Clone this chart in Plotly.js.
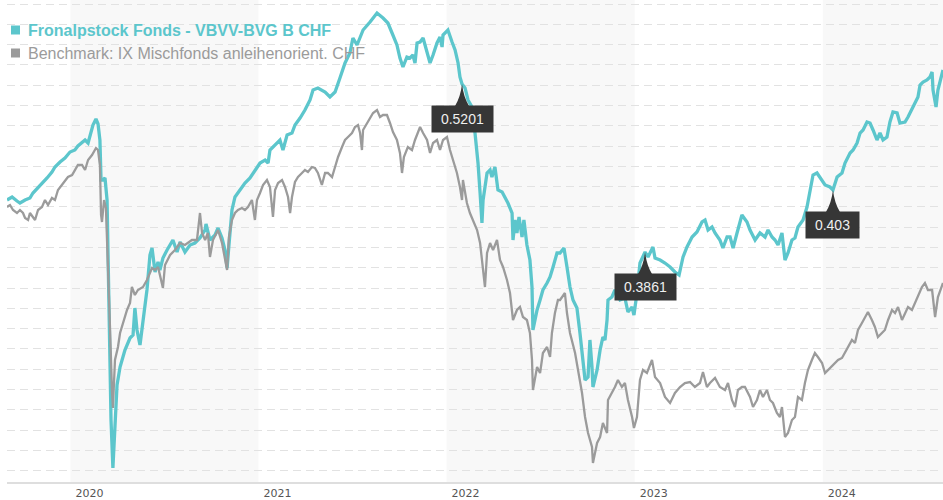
<!DOCTYPE html>
<html>
<head>
<meta charset="utf-8">
<script src="https://cdn.plot.ly/plotly-3.0.1.min.js"></script>
<style>html,body{margin:0;padding:0;background:#fff;}#chart{width:943px;height:500px;}</style>
</head>
<body>
<div id="chart"></div>
<script>
// ---- data (x in decimal years, values in index points) ----
const fundName = 'Fronalpstock Fonds - VBVV-BVG B CHF';
const benchName = 'Benchmark: IX Mischfonds anleihenorient. CHF';

const tickYears = [2020, 2021, 2022, 2023, 2024];
const tickLabels = ['2020', '2021', '2022', '2023', '2024'];
const shadedYears = [2020, 2022, 2024];

const fundYear = [
2019.663,2019.690,2019.716,2019.732,2019.759,2019.785,2019.801,2019.828,2019.854,2019.876,
2019.902,2019.918,2019.945,2019.971,2019.998,2020.024,2020.040,2020.062,2020.078,2020.094,
2020.104,2020.120,2020.136,2020.147,2020.157,2020.163,2020.173,2020.184,2020.195,2020.205,
2020.216,2020.226,2020.237,2020.248,2020.264,2020.290,2020.317,2020.333,2020.343,2020.354,
2020.370,2020.386,2020.407,2020.423,2020.434,2020.450,2020.466,2020.476,2020.492,2020.514,
2020.530,2020.545,2020.567,2020.583,2020.609,2020.636,2020.662,2020.689,2020.716,2020.721,
2020.742,2020.769,2020.785,2020.806,2020.822,2020.833,2020.843,2020.859,2020.875,2020.902,
2020.928,2020.955,2020.981,2021.008,2021.035,2021.051,2021.061,2021.088,2021.114,2021.130,
2021.152,2021.178,2021.194,2021.221,2021.247,2021.274,2021.290,2021.316,2021.354,2021.380,
2021.407,2021.433,2021.460,2021.486,2021.502,2021.524,2021.540,2021.556,2021.593,2021.619,
2021.630,2021.662,2021.688,2021.710,2021.736,2021.752,2021.768,2021.789,2021.805,2021.821,
2021.832,2021.843,2021.859,2021.875,2021.896,2021.912,2021.928,2021.949,2021.965,2021.976,
2021.981,2022.007,2022.029,2022.045,2022.061,2022.071,2022.082,2022.098,2022.114,2022.135,
2022.151,2022.162,2022.167,2022.178,2022.188,2022.194,2022.215,2022.231,2022.241,2022.257,
2022.268,2022.273,2022.295,2022.310,2022.326,2022.348,2022.353,2022.364,2022.374,2022.385,
2022.401,2022.411,2022.427,2022.443,2022.454,2022.459,2022.481,2022.497,2022.512,2022.534,
2022.550,2022.566,2022.587,2022.603,2022.624,2022.640,2022.656,2022.672,2022.693,2022.709,
2022.725,2022.736,2022.752,2022.762,2022.773,2022.778,2022.800,2022.816,2022.831,2022.842,
2022.853,2022.858,2022.879,2022.895,2022.922,2022.948,2022.964,2022.986,2022.996,2023.012,
2023.028,2023.055,2023.071,2023.097,2023.108,2023.135,2023.161,2023.188,2023.214,2023.236,
2023.257,2023.278,2023.305,2023.331,2023.358,2023.374,2023.390,2023.411,2023.427,2023.453,
2023.469,2023.491,2023.507,2023.523,2023.544,2023.560,2023.570,2023.597,2023.613,2023.640,
2023.666,2023.693,2023.709,2023.730,2023.746,2023.762,2023.783,2023.799,2023.815,2023.836,
2023.852,2023.868,2023.895,2023.916,2023.932,2023.948,2023.969,2023.996,2024.012,2024.038,
2024.054,2024.076,2024.102,2024.118,2024.145,2024.161,2024.182,2024.198,2024.214,2024.235,
2024.251,2024.267,2024.288,2024.304,2024.320,2024.341,2024.357,2024.373,2024.395,2024.410,
2024.437,2024.453,2024.474,2024.490,2024.506,2024.517,2024.533,2024.554,2024.570,2024.581,
2024.586,2024.602,2024.612,2024.639
];
const fundValue = [
282,285,281,279,282,284,289,294,299,304,
310,315,320,324,330,332,336,339,342,339,
347,357,363,358,342,302,302,304,282,182,
62,14,52,97,115,132,144,147,174,152,
137,164,192,227,234,210,220,212,224,232,
237,242,230,240,230,237,239,244,252,258,
242,247,254,244,232,214,237,272,285,292,
299,304,312,319,322,319,332,337,342,332,
347,349,357,364,372,382,392,394,390,385,
390,404,419,429,444,437,445,452,460,467,
469,464,459,449,437,424,415,425,424,427,
419,439,440,444,430,419,427,439,445,435,
447,452,440,432,419,405,398,394,382,375,
349,332,319,289,259,282,309,312,305,315,
302,292,290,285,279,269,242,262,249,265,
245,262,237,222,195,152,172,182,192,199,
205,215,229,229,234,215,195,182,174,149,
122,102,105,142,115,95,112,132,145,142,
162,182,185,192,182,184,170,175,167,189,
219,230,225,235,224,222,219,215,210,207,
225,235,245,250,260,262,252,255,249,242,
234,245,245,234,249,262,267,260,252,242,
249,245,252,245,242,237,249,222,229,242,
244,255,262,275,292,307,309,302,297,295,
292,305,309,319,329,332,339,349,352,360,
359,352,342,349,342,345,360,370,369,359,
360,365,374,379,385,397,400,402,405,410,
392,375,392,412
];

const benchYear = [
2019.663,2019.679,2019.695,2019.716,2019.732,2019.748,2019.759,2019.775,2019.785,2019.801,
2019.812,2019.828,2019.849,2019.865,2019.881,2019.902,2019.918,2019.934,2019.955,2019.971,
2019.987,2020.009,2020.024,2020.040,2020.062,2020.078,2020.094,2020.115,2020.136,2020.147,
2020.157,2020.163,2020.168,2020.179,2020.189,2020.200,2020.211,2020.221,2020.226,2020.237,
2020.253,2020.264,2020.280,2020.301,2020.317,2020.327,2020.343,2020.359,2020.386,2020.407,
2020.434,2020.450,2020.466,2020.492,2020.503,2020.530,2020.556,2020.583,2020.609,2020.646,
2020.673,2020.689,2020.700,2020.716,2020.731,2020.742,2020.758,2020.779,2020.785,2020.806,
2020.822,2020.833,2020.843,2020.859,2020.875,2020.891,2020.912,2020.928,2020.944,2020.965,
2020.981,2020.992,2021.008,2021.024,2021.045,2021.061,2021.077,2021.088,2021.104,2021.125,
2021.141,2021.157,2021.168,2021.178,2021.194,2021.210,2021.231,2021.247,2021.263,2021.284,
2021.300,2021.316,2021.337,2021.354,2021.369,2021.391,2021.407,2021.423,2021.444,2021.460,
2021.476,2021.497,2021.513,2021.529,2021.540,2021.550,2021.556,2021.577,2021.593,2021.609,
2021.630,2021.646,2021.662,2021.683,2021.699,2021.715,2021.736,2021.752,2021.763,2021.773,
2021.794,2021.816,2021.832,2021.848,2021.859,2021.875,2021.896,2021.912,2021.928,2021.949,
2021.965,2021.981,2022.002,2022.018,2022.034,2022.055,2022.071,2022.082,2022.087,2022.108,
2022.124,2022.140,2022.162,2022.178,2022.194,2022.204,2022.215,2022.231,2022.247,2022.268,
2022.284,2022.300,2022.321,2022.337,2022.353,2022.374,2022.390,2022.406,2022.427,2022.443,
2022.454,2022.459,2022.481,2022.497,2022.512,2022.534,2022.550,2022.560,2022.576,2022.592,
2022.603,2022.629,2022.640,2022.656,2022.683,2022.699,2022.720,2022.736,2022.752,2022.773,
2022.778,2022.800,2022.816,2022.831,2022.853,2022.858,2022.879,2022.895,2022.911,2022.932,
2022.948,2022.964,2022.986,2022.996,2023.012,2023.028,2023.044,2023.065,2023.092,2023.108,
2023.135,2023.161,2023.188,2023.214,2023.241,2023.267,2023.294,2023.320,2023.347,2023.363,
2023.384,2023.400,2023.427,2023.453,2023.480,2023.496,2023.517,2023.533,2023.549,2023.570,
2023.586,2023.613,2023.629,2023.650,2023.666,2023.682,2023.703,2023.719,2023.735,2023.756,
2023.772,2023.783,2023.799,2023.815,2023.836,2023.852,2023.868,2023.889,2023.905,2023.921,
2023.942,2023.958,2023.974,2023.996,2024.012,2024.028,2024.049,2024.065,2024.081,2024.102,
2024.118,2024.134,2024.155,2024.171,2024.187,2024.208,2024.224,2024.240,2024.261,2024.277,
2024.293,2024.314,2024.330,2024.347,2024.368,2024.384,2024.400,2024.421,2024.437,2024.453,
2024.474,2024.490,2024.506,2024.527,2024.543,2024.559,2024.581,2024.597,2024.612,2024.639
];
const benchValue = [
275,277,272,269,272,269,264,262,269,265,
262,272,275,282,277,284,282,292,297,302,
305,307,312,317,317,312,322,327,334,332,
317,267,260,282,274,222,152,92,74,122,
135,149,159,172,179,195,187,192,195,202,
214,212,215,194,217,227,232,239,237,242,
242,269,249,242,249,225,242,249,252,239,
225,212,245,262,269,272,274,272,275,282,
262,282,289,297,302,295,265,292,299,302,
295,285,269,285,300,305,309,312,310,315,
314,309,297,309,309,305,315,325,335,342,
345,349,355,357,349,332,352,359,365,369,
372,365,367,367,359,350,342,329,309,325,
335,332,342,349,355,349,342,329,339,342,
332,342,345,332,322,309,295,282,302,279,
269,262,252,239,215,195,229,239,232,242,
222,215,202,189,162,172,175,165,162,149,
122,92,115,109,129,135,125,149,169,182,
182,189,169,149,129,112,89,65,49,35,
19,39,45,59,49,82,89,95,102,95,
99,82,65,54,65,102,112,109,122,105,
99,85,79,89,95,99,100,95,99,110,
95,99,104,95,92,99,82,75,92,95,
95,85,75,82,92,85,92,82,79,69,
65,75,45,49,62,65,85,82,99,112,
122,129,125,119,109,112,115,119,122,124,
129,134,142,139,152,159,165,170,162,155,
145,149,152,162,172,169,175,162,169,175,
172,179,185,195,199,192,192,165,185,199
];

// labelled points on the fund line
const markerYear = [2022.082, 2023.055, 2024.054];
const markerLabels = ['0.5201', '0.3861', '0.403'];

// ---- styling ----
const TEAL = '#5cc6cc';
const GREY = '#9b9b9b';

function valueAt(xs, ys, x) {
  for (let i = 1; i < xs.length; i++) {
    if (xs[i] >= x) {
      const t = (x - xs[i - 1]) / (xs[i] - xs[i - 1]);
      return ys[i - 1] + t * (ys[i] - ys[i - 1]);
    }
  }
  return ys[ys.length - 1];
}

const traces = [
  { type: 'scatter', mode: 'lines', x: fundYear, y: fundValue, name: fundName,
    line: { color: TEAL, width: 3.3 }, hoverinfo: 'skip', showlegend: false },
  { type: 'scatter', mode: 'lines', x: benchYear, y: benchValue, name: benchName,
    line: { color: GREY, width: 2.3 }, hoverinfo: 'skip', showlegend: false }
];

const shapes = shadedYears.map(y => ({
  type: 'rect', xref: 'x', yref: 'paper', x0: y, x1: y + 1, y0: 0, y1: 1,
  fillcolor: '#f8f8f8', line: { width: 0 }, layer: 'below'
}));

// custom legend: coloured square + name
const legendItems = [
  { name: '<b>' + fundName + '</b>', color: TEAL, yPx: 30 },
  { name: benchName, color: GREY, yPx: 53 }
];
const annotations = [];
legendItems.forEach(item => {
  const yPaper = 1 - item.yPx / 482;
  shapes.push({
    type: 'rect', xref: 'paper', yref: 'paper', xsizemode: 'pixel', ysizemode: 'pixel',
    xanchor: 0, yanchor: yPaper, x0: 4, x1: 13, y0: -4.5, y1: 4.5,
    fillcolor: item.color, line: { width: 0 }, layer: 'above'
  });
  annotations.push({
    xref: 'paper', yref: 'paper', x: 0, y: yPaper, xanchor: 'left', yanchor: 'middle',
    xshift: 20, showarrow: false, borderpad: 0, text: item.name,
    font: { family: 'Liberation Sans, Arial, sans-serif', size: 16, color: item.color }
  });
});

markerYear.forEach((yr, i) => {
  const v = valueAt(fundYear, fundValue, yr);
  shapes.push({
    type: 'path', xref: 'x', yref: 'y', xsizemode: 'pixel', ysizemode: 'pixel',
    xanchor: yr, yanchor: v,
    path: 'M0,0 Q-1.5,-13 -7,-22 L7,-22 Q1.5,-13 0,0 Z',
    fillcolor: '#363636', line: { width: 0 }, layer: 'above'
  });
  annotations.push({
    xref: 'x', yref: 'y', x: yr, y: v, xanchor: 'center', yanchor: 'top', yshift: -21,
    showarrow: false, text: '\u00a0' + markerLabels[i] + '\u00a0',
    bgcolor: '#363636', borderpad: 5,
    font: { family: 'Liberation Sans, Arial, sans-serif', size: 14, color: '#efefef' }
  });
});

const layout = {
  width: 943, height: 500,
  margin: { l: 7, r: 0, t: 0, b: 18 },
  paper_bgcolor: '#ffffff', plot_bgcolor: '#ffffff',
  showlegend: false,
  xaxis: {
    type: 'linear', range: [2019.663, 2024.639],
    tickmode: 'array', tickvals: tickYears, ticktext: tickLabels, ticklabelshift: 19,
    showgrid: false, zeroline: false, showline: true, linecolor: '#dedede', linewidth: 2,
    ticks: '', tickfont: { family: 'DejaVu Sans, sans-serif', size: 11, color: '#555555' }
  },
  yaxis: {
    range: [0, 482], showticklabels: false, ticks: '',
    tick0: 11.3, dtick: 20.29, showgrid: true, gridcolor: '#e2e2e2', gridwidth: 1,
    griddash: '8px,5px', zeroline: false, showline: false
  },
  shapes: shapes,
  annotations: annotations
};

Plotly.newPlot('chart', traces, layout, { staticPlot: true, displayModeBar: false });
</script>
</body>
</html>
